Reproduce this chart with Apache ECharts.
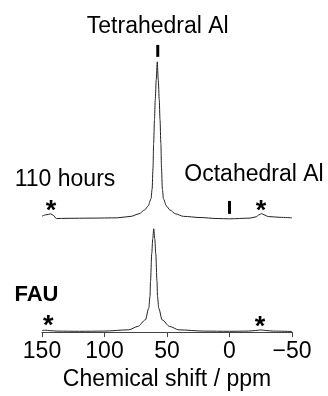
<!DOCTYPE html>
<html>
<head>
<meta charset="utf-8">
<script src="https://cdn.jsdelivr.net/npm/echarts@6/dist/echarts.min.js"></script>
<style>
  html, body { margin: 0; padding: 0; background: #fff; }
  #chart { width: 328px; height: 396px; }
</style>
</head>
<body>
<div id="chart"></div>
<script>
// [ppm, intensity] - the 110 hours trace is stacked above the FAU trace
const trace110h = [
  [150, 116.7], [147, 118], [143, 119], [141, 117.5], [138.5, 114.3],
  [130, 114.5], [110, 114.7], [89.8, 115], [78.8, 116.5], [72.5, 119],
  [67.8, 123], [65.1, 127], [62.8, 134], [61.9, 144], [61.2, 165],
  [60.7, 190], [60, 214], [59.4, 234], [58.6, 254], [57.8, 272],
  [57, 254], [56.2, 234], [55.6, 214], [54.9, 190], [54.4, 165],
  [53.7, 144], [52.8, 134], [50.5, 127], [47.8, 123], [43.1, 119],
  [36.8, 116.5], [23.6, 115.3], [10, 114.3], [0, 114], [-16.4, 114.7],
  [-21.2, 116], [-23.6, 118], [-25.8, 119.3], [-27.6, 118], [-31, 116.3],
  [-40.4, 115.5], [-50, 115]
];
const traceFAU = [
  [150, 1.6], [147, 1.9], [144, 1.5], [138, 1.0], [120, 0.8],
  [100.6, 1.0], [80.6, 2.3], [73.3, 5.7], [67.3, 12.3], [64.6, 24],
  [63.6, 36], [63.2, 51], [62.2, 79], [61.4, 94], [60.6, 104], [59.8, 94],
  [59, 79], [58, 51], [57.6, 36], [56.6, 24], [53.9, 12.3], [47.9, 5.7],
  [40.6, 2.3], [20.6, 1.0], [0, 0.8], [-15, 1.0], [-21, 1.6],
  [-25, 2.2], [-29, 1.6], [-35, 1.0], [-50, 0.6]
];
const xTicks = [150, 100, 50, 0, -50];

// text annotations: [ppm, intensity, text, align, bold]
const labels = [
  [57.4, 307.5, 'Tetrahedral Al', 'center', false],
  [131.6, 153.5, '110 hours', 'center', false],
  [-19.6, 158.5, 'Octahedral Al', 'center', false],
  [154.4, 37.5, 'FAU', 'center', true]
];
// spinning sidebands
const stars = [[142.8, 121.0], [-25.2, 121.0], [145, 5.4], [-24.4, 4.7]];
// peak markers: [ppm, top, bottom]
const markers = [[57.4, 289, 277], [0, 132, 119]];

const chart = echarts.init(document.getElementById('chart'));
const font = 'Liberation Sans, Arial, sans-serif';

chart.setOption({
  animation: false,
  grid: { left: 42, right: 36, top: 34, bottom: 62, containLabel: false },
  xAxis: {
    type: 'value',
    min: -50,
    max: 150,
    interval: 50,
    inverse: true,
    name: 'Chemical shift / ppm',
    nameLocation: 'middle',
    nameGap: 33,
    nameTextStyle: { color: '#000', fontSize: 23, fontFamily: font },
    axisLine: { lineStyle: { color: '#444', width: 1 } },
    axisTick: { length: 5, lineStyle: { color: '#444' } },
    splitLine: { show: false },
    axisLabel: {
      color: '#000',
      fontSize: 23,
      fontFamily: font,
      margin: 8,
      formatter: v => (xTicks.includes(v) ? (v < 0 ? '\u2212' + Math.abs(v) : String(v)) : '')
    }
  },
  yAxis: { type: 'value', min: 0, max: 300, show: false },
  series: [
    {
      name: '110 hours', type: 'line', data: trace110h, showSymbol: false,
      smooth: 0.3, smoothMonotone: 'x',
      lineStyle: { color: '#222', width: 1 }
    },
    {
      name: 'FAU', type: 'line', data: traceFAU, showSymbol: false,
      smooth: 0.3, smoothMonotone: 'x',
      lineStyle: { color: '#222', width: 1 }
    }
  ]
});

const toPx = p => chart.convertToPixel({ xAxisIndex: 0, yAxisIndex: 0 }, p);
const graphic = [];
labels.forEach(([x, y, text, align, bold]) => {
  const p = toPx([x, y]);
  graphic.push({
    type: 'text', x: p[0], y: p[1],
    style: {
      text, fill: '#000', font: (bold ? 'bold ' : '') + (bold ? 22 : 23) + 'px ' + font,
      textAlign: align, textVerticalAlign: 'middle'
    }
  });
});
stars.forEach(([x, y]) => {
  const p = toPx([x, y]);
  graphic.push({
    type: 'text', x: p[0], y: p[1],
    style: { text: '*', fill: '#000', font: 'bold 27px ' + font, textAlign: 'center', textVerticalAlign: 'middle' }
  });
});
markers.forEach(([x, top, bottom]) => {
  const a = toPx([x, top]);
  const b = toPx([x, bottom]);
  graphic.push({
    type: 'rect',
    shape: { x: a[0] - 1.5, y: a[1], width: 3, height: b[1] - a[1] },
    style: { fill: '#000' }
  });
});
chart.setOption({ graphic });
</script>
</body>
</html>
